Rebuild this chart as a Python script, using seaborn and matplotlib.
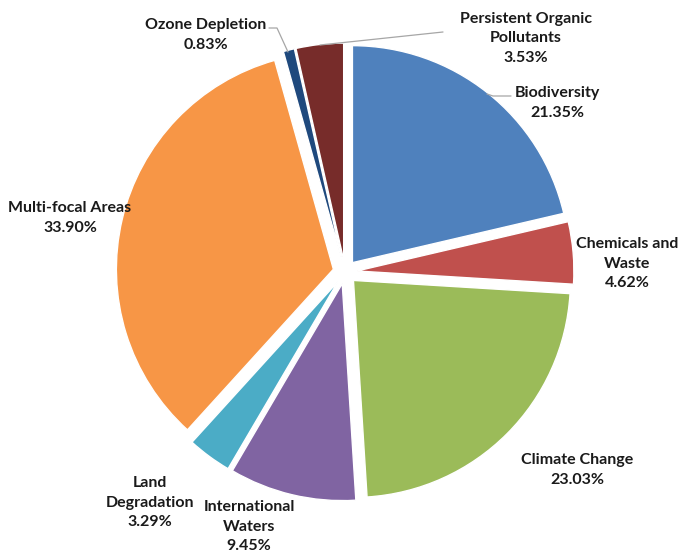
import numpy as np
import seaborn as sns
import matplotlib.pyplot as plt

# focal area shares (%), clockwise from 12 o'clock
areas = ["Biodiversity", "Chemicals and\nWaste", "Climate Change", "International\nWaters",
         "Land\nDegradation", "Multi-focal Areas", "Ozone Depletion", "Persistent Organic\nPollutants"]
shares = [21.35, 4.62, 23.03, 9.45, 3.29, 33.90, 0.83, 3.53]
colors = ["#4F81BD", "#C0504D", "#9BBB59", "#8064A2", "#4BACC6", "#F79646", "#1F497D", "#772C2A"]

# label block centres in pixels (x, y from top)
label_px = [(557, 103), (627, 264), (577, 470), (249, 527),
            (150, 503), (70, 218), (206, 35), (526, 38)]

W, H, DPI = 680, 557, 100
CX, CY, R = 345, 272, 217


def px(x, y):
    return ((x - CX) / R, (CY - y) / R)


sns.set_theme(style="white")
plt.rcParams['font.family'] = ['Lato', 'DejaVu Sans']

fig = plt.figure(figsize=(W / DPI, H / DPI), dpi=DPI)
ax = fig.add_axes([0, 0, 1, 1])

explode = [0.055] * len(shares)
wedges, _ = ax.pie(shares, colors=colors, startangle=90, counterclock=False,
                   explode=explode, radius=1,
                   wedgeprops=dict(edgecolor="white", linewidth=1))

for name, val, (lx, ly) in zip(areas, shares, label_px):
    x, y = px(lx, ly)
    ax.text(x, y, f"{name}\n{val:.2f}%", ha="center", va="center",
            fontsize=11.5, fontweight="bold", color="#1a1a1a", linespacing=1.5)

# leader lines for the labels set away from their slices
leaders = [
    [(288, 52), (277, 28), (269, 28)],
    [(320, 45), (443, 32)],
    [(487, 94), (493, 96), (511, 96)],
]
for pts in leaders:
    xy = np.array([px(*p) for p in pts])
    ax.plot(xy[:, 0], xy[:, 1], color="#A6A6A6", lw=0.9)

ax.set_xlim(-CX / R, (W - CX) / R)
ax.set_ylim(-(H - CY) / R, CY / R)
ax.set_aspect("equal")
ax.axis("off")

fig.savefig("out.png", dpi=DPI, facecolor="white")
